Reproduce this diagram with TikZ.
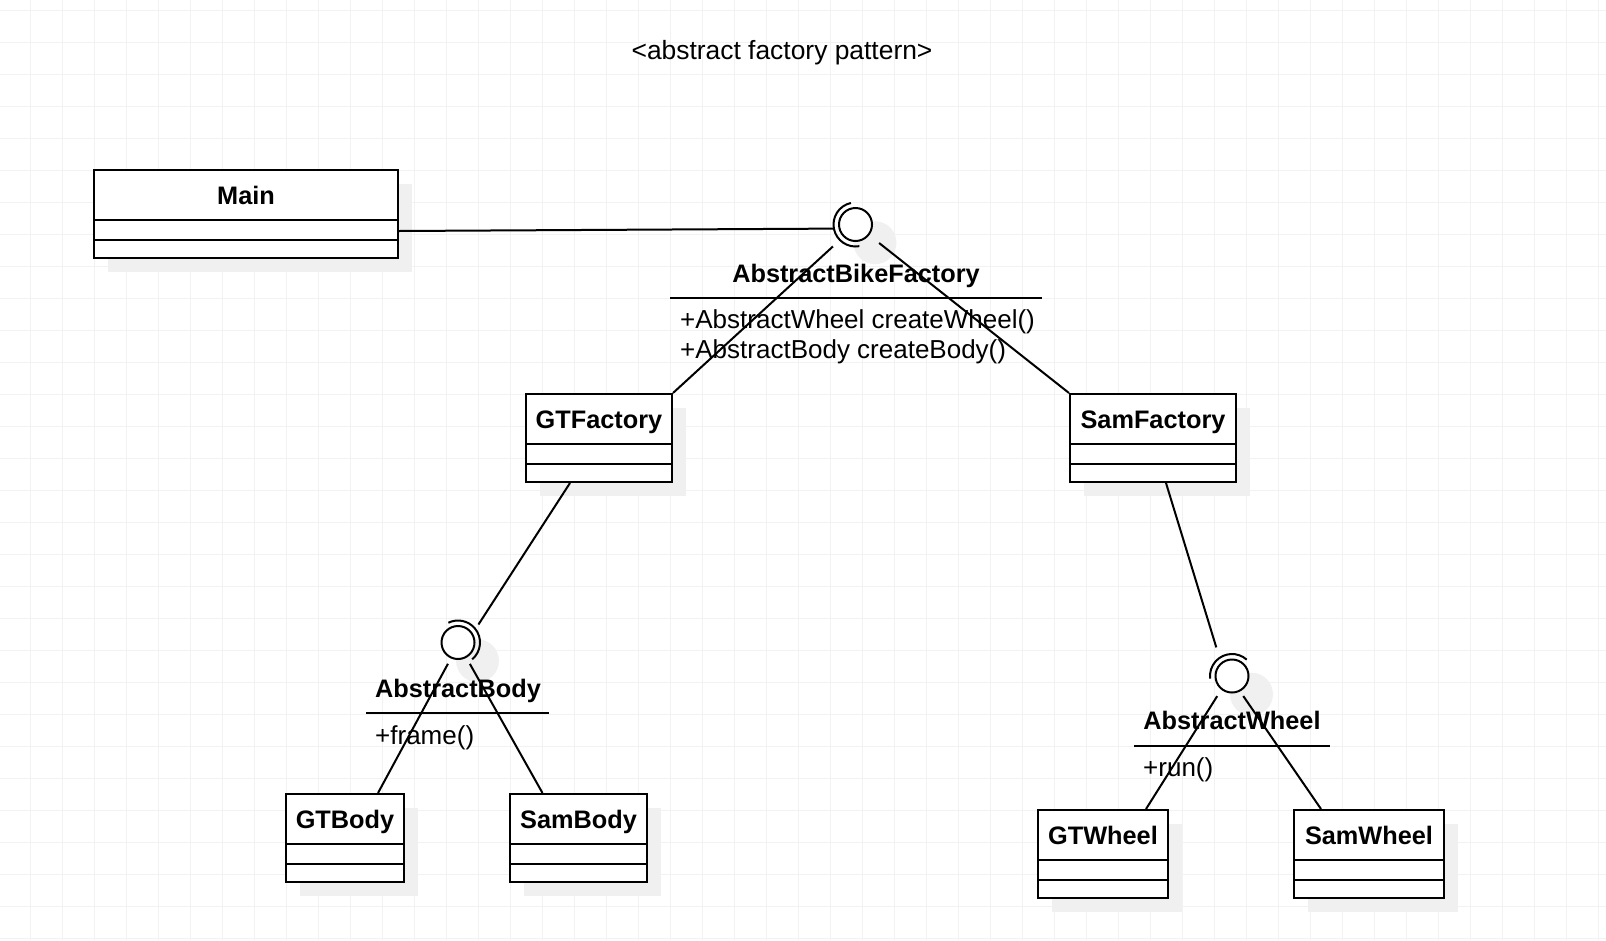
\documentclass[tikz,border=0pt]{standalone}
\usepackage{fontspec}
\setmainfont{Liberation Sans}
\usepackage{tikz}
\usetikzlibrary{shadows}
\definecolor{gridgray}{RGB}{242,242,242}
\definecolor{shadowgray}{RGB}{240,240,240}
\tikzstyle{gridline}=[gridgray, line width=1pt]
\tikzstyle{umlclass}=[draw, line width=2pt, fill=white, inner xsep=0pt, inner ysep=0pt, minimum height=88pt, text height=34pt, text depth=54pt, font=\fontsize{25.3}{30}\selectfont\bfseries, general shadow={fill=shadowgray, shadow xshift=14pt, shadow yshift=-14pt}]
\tikzstyle{iface}=[draw, circle, line width=2pt, fill=white, inner sep=0pt, minimum size=33pt, outer sep=5pt, general shadow={fill=shadowgray, shadow scale=1.3, shadow xshift=15pt, shadow yshift=-14pt}]
\tikzstyle{socket}=[line width=2pt]
\tikzstyle{ifacename}=[anchor=base, inner sep=0pt, font=\fontsize{25.3}{30}\selectfont\bfseries]
\tikzstyle{ifaceop}=[anchor=base west, inner sep=0pt, font=\fontsize{26}{30}\selectfont]
\tikzstyle{link}=[line width=2pt]

\begin{document}
\begin{tikzpicture}[x=1pt, y=-1pt]
        \useasboundingbox (0,0) rectangle (1606,940);
        \fill[white] (0,0) rectangle (1606,940);
        \foreach \x in {30,62,...,1598} \draw[gridline] (\x,0) -- (\x,940);
        \foreach \y in {10,42,...,938} \draw[gridline] (0,\y) -- (1606,\y);
        \node[anchor=base, inner sep=0pt, font=\fontsize{26.4}{30}\selectfont] (Title) at (782, 59) {<abstract factory pattern>};
        \node[umlclass, minimum width=304pt] (Main) at (246, 214) {Main};
        \node[umlclass, minimum width=146pt] (GTF)  at (599, 438) {GTFactory};
        \node[umlclass, minimum width=166pt] (SamF) at (1153, 438) {SamFactory};
        \node[umlclass, minimum width=118pt] (GTB)  at (345, 838) {GTBody};
        \node[umlclass, minimum width=137pt] (SamB) at (578.5, 838) {SamBody};
        \node[umlclass, minimum width=130pt] (GTW)  at (1103, 854) {GTWheel};
        \node[umlclass, minimum width=150pt] (SamW) at (1369, 854) {SamWheel};
        \draw[link] ([yshift=-6pt]Main.west) -- ([yshift=-6pt]Main.east);
        \draw[link] ([yshift=-25.5pt]Main.west) -- ([yshift=-25.5pt]Main.east);
        \draw[link] ([yshift=-6pt]GTF.west) -- ([yshift=-6pt]GTF.east);
        \draw[link] ([yshift=-25.5pt]GTF.west) -- ([yshift=-25.5pt]GTF.east);
        \draw[link] ([yshift=-6pt]SamF.west) -- ([yshift=-6pt]SamF.east);
        \draw[link] ([yshift=-25.5pt]SamF.west) -- ([yshift=-25.5pt]SamF.east);
        \draw[link] ([yshift=-6pt]GTB.west) -- ([yshift=-6pt]GTB.east);
        \draw[link] ([yshift=-25.5pt]GTB.west) -- ([yshift=-25.5pt]GTB.east);
        \draw[link] ([yshift=-6pt]SamB.west) -- ([yshift=-6pt]SamB.east);
        \draw[link] ([yshift=-25.5pt]SamB.west) -- ([yshift=-25.5pt]SamB.east);
        \draw[link] ([yshift=-6pt]GTW.west) -- ([yshift=-6pt]GTW.east);
        \draw[link] ([yshift=-25.5pt]GTW.west) -- ([yshift=-25.5pt]GTW.east);
        \draw[link] ([yshift=-6pt]SamW.west) -- ([yshift=-6pt]SamW.east);
        \draw[link] ([yshift=-25.5pt]SamW.west) -- ([yshift=-25.5pt]SamW.east);
        \node[iface] (ABF) at (855.5, 224.5) {};
        \node[iface] (AB)  at (458, 642.5) {};
        \node[iface] (AW)  at (1232, 676) {};
        \draw[socket] ([shift={(102:22pt)}]ABF.center) arc[start angle=102, end angle=280, radius=22pt];
        \draw[socket] ([shift={(-50:22pt)}]AB.center) arc[start angle=-50, end angle=116, radius=22pt];
        \draw[socket] ([shift={(48:22pt)}]AW.center) arc[start angle=48, end angle=187, radius=22pt];
        \node[ifacename] (ABFname) at (856, 282) {AbstractBikeFactory};
        \node[ifaceop]   (ABFop1)  at (680, 328) {+AbstractWheel createWheel()};
        \node[ifaceop]   (ABFop2)  at (680, 358.5) {+AbstractBody createBody()};
        \node[ifacename] (ABname)  at (458, 697.3) {AbstractBody};
        \node[ifaceop]   (ABop)    at (375, 744) {+frame()};
        \node[ifacename] (AWname)  at (1232, 729.3) {AbstractWheel};
        \node[ifaceop]   (AWop)    at (1143, 776.5) {+run()};
        \draw[link] (670, 298) -- (1042, 298);
        \draw[link] (366, 713) -- (549, 713);
        \draw[link] (1134, 746) -- (1330, 746);
        \draw[link] ([yshift=-17pt]Main.east) -- (ABF.191);
        \draw[link, shorten <=10pt] (ABF.225) -- (GTF.north east);
        \draw[link, shorten <=8.5pt] (ABF.-38) -- (SamF.north west);
        \draw[link, shorten >=6pt] ([xshift=-29pt]GTF.south) -- (AB.37);
        \draw[link, shorten <=2pt] (AB.-115) -- ([xshift=33pt]GTB.north);
        \draw[link, shorten <=3pt] (AB.-61) -- ([xshift=-36pt]SamB.north);
        \draw[link, shorten >=11.5pt] ([xshift=13pt]SamF.south) -- (AW.125);
        \draw[link, shorten <=3.5pt] (AW.-127) -- ([xshift=43pt]GTW.north);
        \draw[link, shorten <=1.5pt] (AW.-61) -- ([xshift=-48pt]SamW.north);
    \end{tikzpicture}
\end{document}
